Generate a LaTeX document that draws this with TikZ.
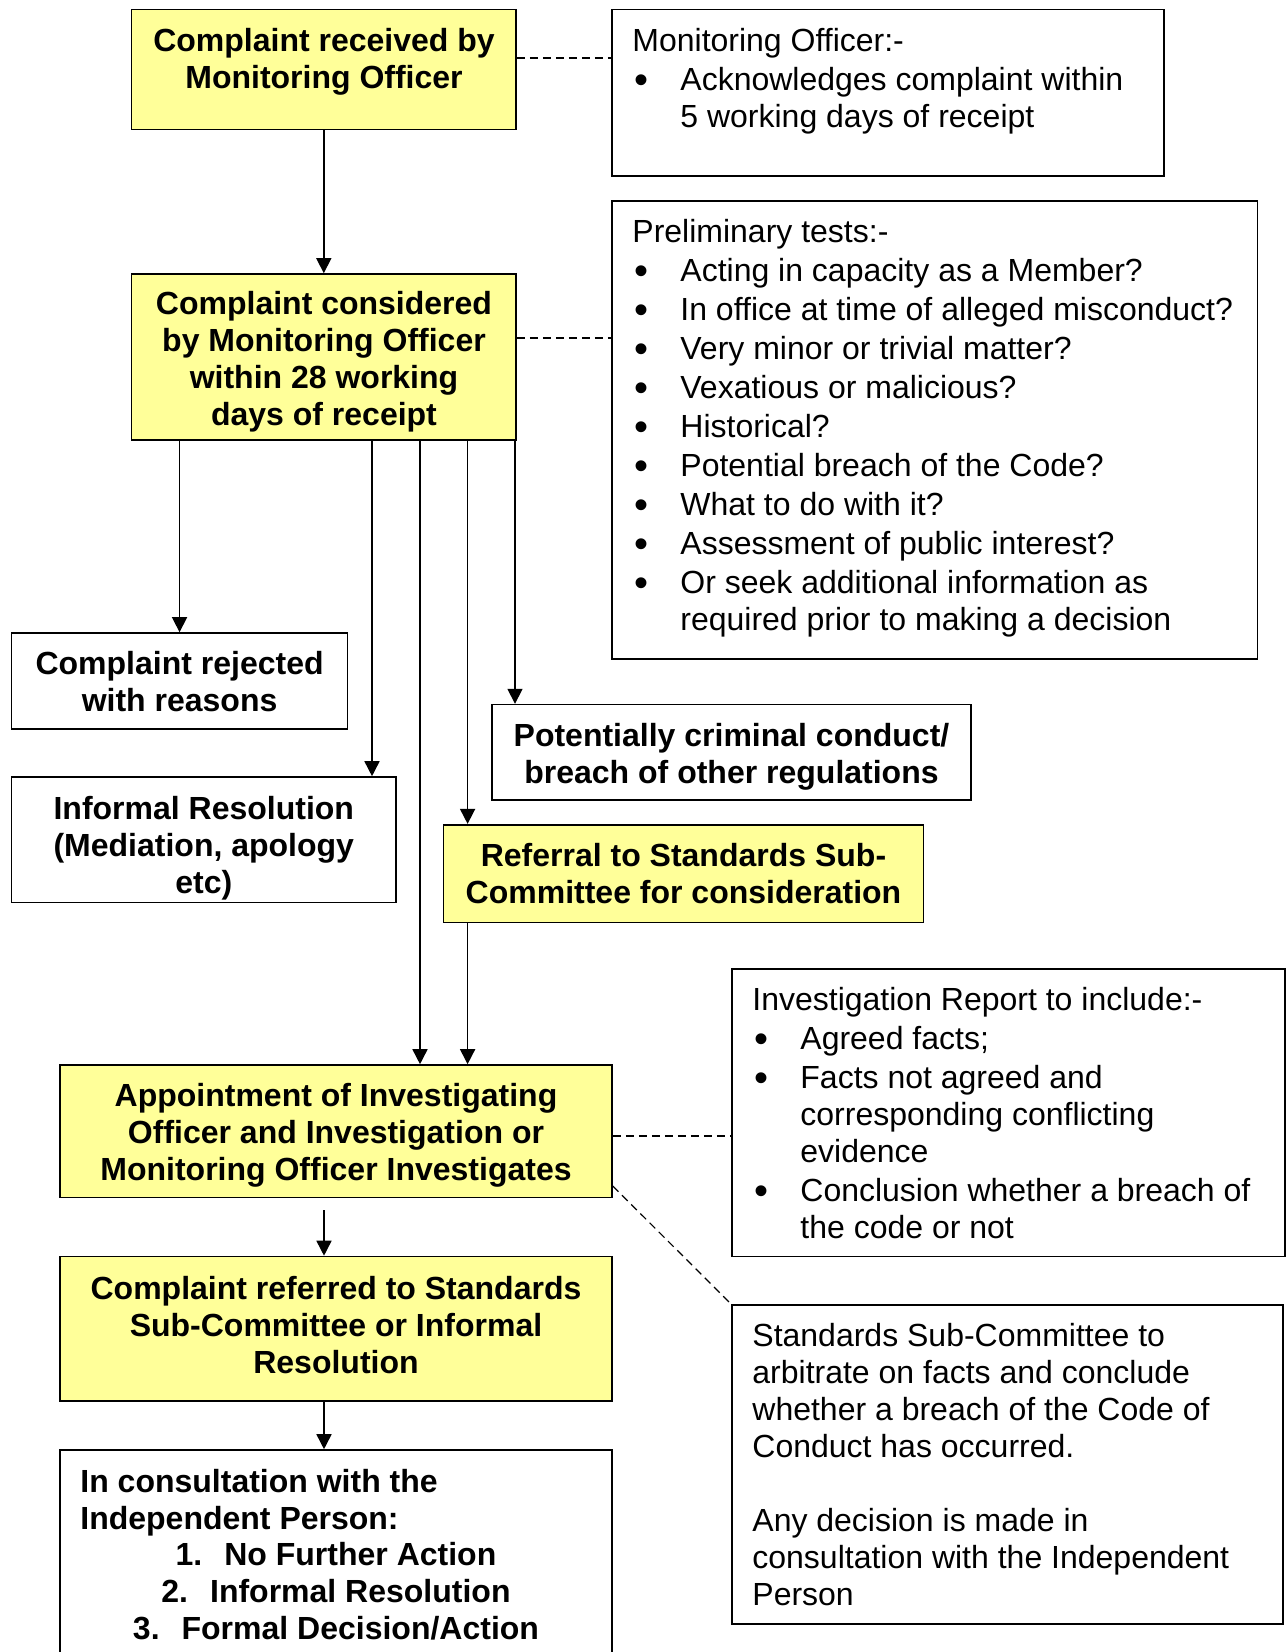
\documentclass[tikz,border=0pt]{standalone}
\usepackage{fontspec}
\setmainfont{Liberation Sans}
\usetikzlibrary{fit,arrows.meta,calc}
\definecolor{boxyellow}{HTML}{FFFF99}
\newcommand{\bul}{\makebox[24pt][l]{\hspace{1pt}\raisebox{-1.4pt}{\scalebox{1.25}{•}}}}
\newcommand{\ind}{\hspace*{24pt}}
\tikzset{
  bx/.style={draw=black, line width=0.8pt, inner sep=0pt},
  ybx/.style={bx, fill=boxyellow},
  btxt/.style={font=\fontsize{16}{18.5}\selectfont\bfseries, align=center, inner sep=0pt, anchor=north},
  ltxt/.style={font=\fontsize{16}{18.5}\selectfont, align=left, inner sep=0pt, anchor=north west},
  lbtxt/.style={font=\fontsize{16}{18.5}\selectfont\bfseries, align=left, inner sep=0pt, anchor=north west},
  arr/.style={line width=0.8pt, -{Triangle[length=7.5pt,width=7.5pt]}},
  dsh/.style={line width=0.6pt, dash pattern=on 4pt off 2.5pt},
}
\begin{document}
\begin{tikzpicture}[x=0.5pt,y=-0.5pt]
\useasboundingbox (0,0) rectangle (1287,1652);
\fill[white] (0,0) rectangle (1287,1652);

% boxes
\node[ybx, fit={(131.6,9.5) (516,129.5)}] (A) {};
\node[bx, fit={(612,9.5) (1164,176)}] (B) {};
\node[bx, fit={(612,201) (1257.5,659)}] (C) {};
\node[ybx, fit={(131.6,274) (516,440)}] (D) {};
\node[bx, fit={(11.6,633) (347.5,729)}] (E) {};
\node[bx, fit={(11.6,777) (396,902.6)}] (F) {};
\node[bx, fit={(492,704.6) (971,800)}] (I) {};
\node[ybx, fit={(443.4,824.7) (923.6,922.6)}] (H) {};
\node[bx, fit={(732,969) (1285,1256.5)}] (J) {};
\node[ybx, fit={(60,1065) (612,1197.5)}] (G) {};
\node[bx, fit={(732,1305) (1283,1624)}] (K) {};
\node[ybx, fit={(60,1256.5) (612,1401)}] (L) {};
\begin{scope}
\clip (0,0) rectangle (1287,1652);
\node[bx, fit={(60,1450) (612,1680)}] (M) {};
\end{scope}

% texts
\node[btxt] (At) at (324,25) {\strut Complaint received by\\Monitoring Officer};
\node[ltxt] (Bt) at (632,25) {\strut Monitoring Officer:-\\[1pt]
\bul Acknowledges complaint within\\
\ind 5 working days of receipt};
\node[ltxt] (Ct) at (632,216.6) {\strut Preliminary tests:-\\[1pt]
\bul Acting in capacity as a Member?\\[1pt]
\bul In office at time of alleged misconduct?\\[1pt]
\bul Very minor or trivial matter?\\[1pt]
\bul Vexatious or malicious?\\[1pt]
\bul Historical?\\[1pt]
\bul Potential breach of the Code?\\[1pt]
\bul What to do with it?\\[1pt]
\bul Assessment of public interest?\\[1pt]
\bul Or seek additional information as\\
\ind required prior to making a decision};
\node[btxt] (Dt) at (324,288) {\strut Complaint considered\\by Monitoring Officer\\within 28 working\\days of receipt};
\node[btxt] (Et) at (179.6,648.5) {\strut Complaint rejected\\with reasons};
\node[btxt] (Ft) at (203.8,793) {\strut Informal Resolution\\(Mediation, apology\\etc)};
\node[btxt] (It) at (731.5,720) {\strut Potentially criminal conduct/\\breach of other regulations};
\node[btxt] (Ht) at (683.5,840) {\strut Referral to Standards Sub-\\Committee for consideration};
\node[ltxt] (Jt) at (752,984.5) {\strut Investigation Report to include:-\\[1pt]
\bul Agreed facts;\\[1pt]
\bul Facts not agreed and\\
\ind corresponding conflicting\\
\ind evidence\\[1pt]
\bul Conclusion whether a breach of\\
\ind the code or not};
\node[btxt] (Gt) at (336,1080) {\strut Appointment of Investigating\\Officer and Investigation or\\Monitoring Officer Investigates};
\node[ltxt] (Kt) at (752,1320.5) {\strut Standards Sub-Committee to\\
arbitrate on facts and conclude\\
whether a breach of the Code of\\
Conduct has occurred.\\
\strut\\
Any decision is made in\\
consultation with the Independent\\
Person};
\node[btxt] (Lt) at (336,1273) {\strut Complaint referred to Standards\\Sub-Committee or Informal\\Resolution};
\node[lbtxt] (Mt1) at (80,1466) {\strut In consultation with the\\Independent Person:};
\node[btxt] (Mt2) at (336,1539.5) {\strut 1.\hspace{11pt}No Further Action\\2.\hspace{11pt}Informal Resolution\\3.\hspace{11pt}Formal Decision/Action};

% connector columns
\coordinate (cF) at (372,0);
\coordinate (cG) at (420,0);
\coordinate (cH) at (467.6,0);
\coordinate (cI) at (515,0);
\coordinate (yAB) at (0,58);
\coordinate (yDC) at (0,338);
\coordinate (yGJ) at (0,1136);
\coordinate (yGK) at (0,1186);
\coordinate (gl) at (324,1210);

% arrows
\draw[arr] (A.south) -- (D.north);
\draw[arr] (E.north |- D.south) -- (E.north);
\draw[arr] (cF |- D.south) -- (cF |- F.north);
\draw[arr] (cG |- D.south) -- (cG |- G.north);
\draw[arr] (cH |- D.south) -- (cH |- H.north);
\draw[arr] (cH |- H.south) -- (cH |- G.north);
\draw[arr] (cI |- D.south) -- (cI |- I.north);
\draw[arr] (gl) -- (gl |- L.north);
\draw[arr] (gl |- L.south) -- (gl |- M.north);

% dashed links
\draw[dsh] (A.east |- yAB) -- (B.west |- yAB);
\draw[dsh] (D.east |- yDC) -- (C.west |- yDC);
\draw[dsh] (G.east |- yGJ) -- (J.west |- yGJ);
\draw[dsh] (G.east |- yGK) -- (K.north west);
\end{tikzpicture}
\end{document}
